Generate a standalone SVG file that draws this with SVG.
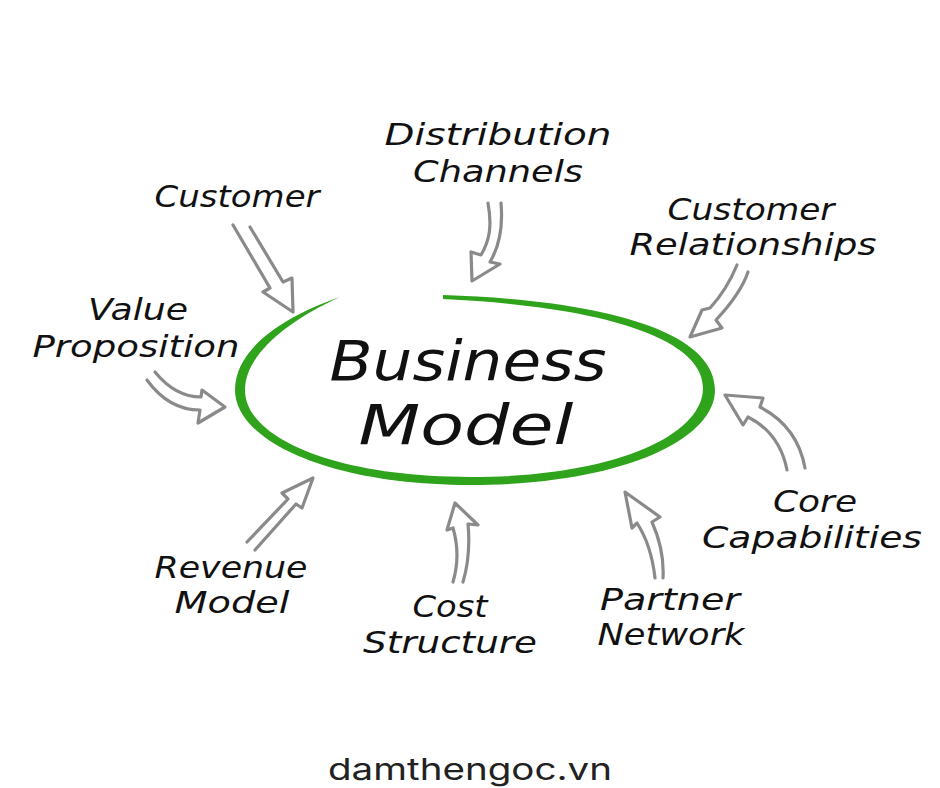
<svg xmlns="http://www.w3.org/2000/svg" width="940" height="788" viewBox="0 0 940 788">
<style>
.lbl{font-family:"DejaVu Sans","Liberation Sans",sans-serif;font-style:italic;font-size:30px;fill:#111;text-anchor:middle}
.big{font-family:"DejaVu Sans","Liberation Sans",sans-serif;font-style:italic;font-size:56px;fill:#111;text-anchor:middle}
.arr{fill:none;stroke:#8a8a8a;stroke-width:3.2;stroke-linejoin:round;stroke-linecap:round}
.foot{font-family:Inter,"Liberation Sans",sans-serif;font-size:30px;fill:#222;text-anchor:middle}
</style>
<rect width="940" height="788" fill="#fff"/>
<g id="center">
<path d="M340,297 C 280,318 235,350 235,390 C 235,441 330,485 470,485 C 620,485 715,440 715,390 C 715,330 600,300 443,295 L 443,299 C 595,306 703,336 703,388 C 703,435 615,477 470,477 C 335,477 245,438 245,390 C 245,356 285,322 340,297 Z" fill="#2fa31b"/>
<text class="big" x="468" y="380" textLength="277" lengthAdjust="spacingAndGlyphs">Business</text>
<text class="big" x="466" y="444" textLength="215" lengthAdjust="spacingAndGlyphs">Model</text>
</g>
<g id="connectors">
<path class="arr" d="M233,225 L 270,288 L 263,292 L 293,312 L 292,278 L 283,282 L 250,227"/>
<path class="arr" d="M488,203 C 492,225 490,240 481,255 L 471,252 L 472,281 L 500,264 L 490,262 C 500,245 503,225 501,203"/>
<path class="arr" d="M737,265 C 730,282 722,295 710,308 L 702,310 L 690,337 L 722,328 L 716,320 C 730,305 742,290 748,272"/>
<path class="arr" d="M155,372 C 168,388 182,397 201,397 L 202,390 L 225,407 L 198,423 L 200,410 C 178,410 160,398 147,380"/>
<path class="arr" d="M247,542 L 288,499 L 282,493 L 313,478 L 302,508 L 296,504 L 255,550"/>
<path class="arr" d="M453,582 C 458,565 458,545 453,528 L 447,530 L 455,503 L 478,525 L 468,524 C 470,545 468,565 463,582"/>
<path class="arr" d="M655,578 C 653,560 648,540 637,523 L 632,528 L 625,492 L 660,517 L 652,522 C 660,540 664,560 663,578"/>
<path class="arr" d="M787,470 C 782,445 770,428 748,417 L 743,425 L 725,395 L 763,398 L 760,407 C 785,420 800,440 805,468"/>
</g>
<g id="distribution"><text class="lbl" x="498" y="145" textLength="227" lengthAdjust="spacingAndGlyphs">Distribution</text><text class="lbl" x="498" y="182" textLength="170" lengthAdjust="spacingAndGlyphs">Channels</text></g>
<g id="customer"><text class="lbl" x="237" y="207" textLength="165" lengthAdjust="spacingAndGlyphs">Customer</text></g>
<g id="relationships"><text class="lbl" x="751" y="220" textLength="167" lengthAdjust="spacingAndGlyphs">Customer</text><text class="lbl" x="753" y="255" textLength="247" lengthAdjust="spacingAndGlyphs">Relationships</text></g>
<g id="value"><text class="lbl" x="138" y="320" textLength="100" lengthAdjust="spacingAndGlyphs">Value</text><text class="lbl" x="136" y="357" textLength="207" lengthAdjust="spacingAndGlyphs">Proposition</text></g>
<g id="core"><text class="lbl" x="815" y="512" textLength="84" lengthAdjust="spacingAndGlyphs">Core</text><text class="lbl" x="812" y="548" textLength="220" lengthAdjust="spacingAndGlyphs">Capabilities</text></g>
<g id="revenue"><text class="lbl" x="231" y="578" textLength="153" lengthAdjust="spacingAndGlyphs">Revenue</text><text class="lbl" x="232" y="613" textLength="115" lengthAdjust="spacingAndGlyphs">Model</text></g>
<g id="cost"><text class="lbl" x="450" y="617" textLength="75" lengthAdjust="spacingAndGlyphs">Cost</text><text class="lbl" x="450" y="653" textLength="174" lengthAdjust="spacingAndGlyphs">Structure</text></g>
<g id="partner"><text class="lbl" x="670" y="610" textLength="140" lengthAdjust="spacingAndGlyphs">Partner</text><text class="lbl" x="671" y="645" textLength="147" lengthAdjust="spacingAndGlyphs">Network</text></g>
<g id="footer"><text class="foot" x="470" y="780" textLength="284" lengthAdjust="spacingAndGlyphs">damthengoc.vn</text></g>
</svg>
